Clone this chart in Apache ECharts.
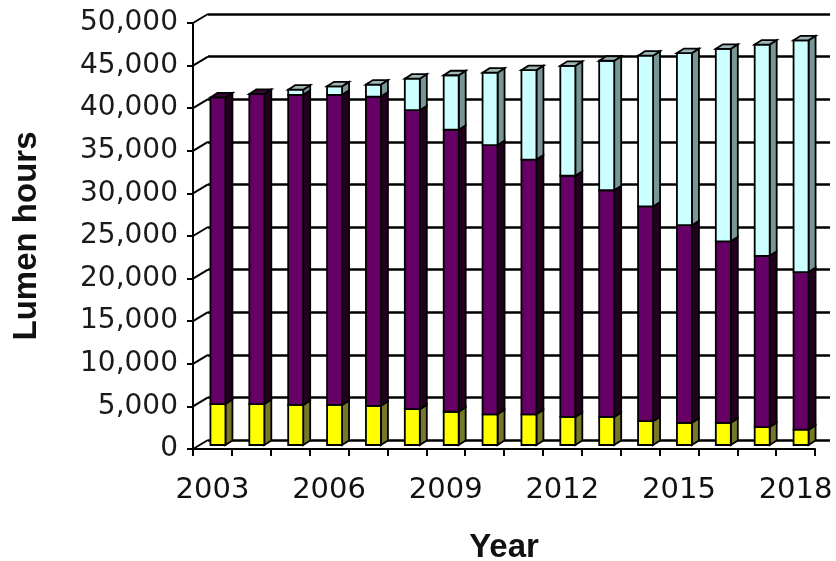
<!DOCTYPE html>
<html>
<head>
<meta charset="utf-8">
<script src="https://cdn.jsdelivr.net/npm/echarts@6/dist/echarts.min.js"></script>
<style>
  html, body { margin: 0; padding: 0; background: #ffffff; }
  #chart { width: 836px; height: 561px; }
</style>
</head>
<body>
<div id="chart"></div>
<script>
// Annual lumen hours by light source, stacked per year
const years = ['2003', '2004', '2005', '2006', '2007', '2008', '2009', '2010',
               '2011', '2012', '2013', '2014', '2015', '2016', '2017', '2018'];
const yellowVals = [4800, 4800, 4700, 4700, 4600, 4200, 3900, 3600,
                    3600, 3300, 3300, 2800, 2600, 2600, 2100, 1800];
const purpleVals = [36000, 36400, 36400, 36400, 36300, 35100, 33100, 31600,
                    29900, 28300, 26600, 25200, 23200, 21300, 20100, 18500];
const cyanVals = [0, 0, 600, 1000, 1400, 3700, 6400, 8500,
                  10500, 12900, 15200, 17700, 20200, 22600, 24800, 27200];
const yTicks = [0, 5000, 10000, 15000, 20000, 25000, 30000, 35000, 40000, 45000, 50000];

// pseudo-3D geometry (pixels)
const FACE_W = 15;          // front face width
const SHIFT_X = 5.5;        // bar front plane offset from the axis plane
const SHIFT_Y = -4;
const DEPTH_X = 7;          // bar depth as drawn on screen
const DEPTH_Y = 4.5;
const WALL_X = 15;          // back wall offset
const WALL_Y = 9;

const segments = [
  { name: 'yellow', vals: yellowVals, front: '#ffff00', side: '#77772a', cap: '#d8d830' },
  { name: 'purple', vals: purpleVals, front: '#660066', side: '#24001f', cap: '#3a0838' },
  { name: 'cyan',   vals: cyanVals,   front: '#ccffff', side: '#789696', cap: '#9fb7b7' }
];

// cumulative bounds for each stacked piece
const bounds = segments.map(() => []);
years.forEach((y, i) => {
  let acc = 0;
  segments.forEach((s, k) => {
    bounds[k].push([i, acc, acc + s.vals[i]]);
    acc += s.vals[i];
  });
});
const capData = years.map((y, i) => {
  let topIdx = 0;
  segments.forEach((s, k) => { if (s.vals[i] > 0) topIdx = k; });
  const total = segments.reduce((a, s) => a + s.vals[i], 0);
  return [i, total, topIdx];
});

const edge = { stroke: '#000000', lineWidth: 1.8 };

function segmentRenderer(seg) {
  return function (params, api) {
    const i = api.value(0), lo = api.value(1), hi = api.value(2);
    if (hi <= lo) return null;
    const pb = api.coord([i, lo]);
    const pt = api.coord([i, hi]);
    const cx = pb[0] + SHIFT_X;
    const yb = pb[1] + SHIFT_Y, yt = pt[1] + SHIFT_Y;
    const xl = cx - FACE_W / 2, xr = cx + FACE_W / 2;
    return {
      type: 'group',
      children: [
        { type: 'polygon',
          shape: { points: [[xr, yb], [xr + DEPTH_X, yb - DEPTH_Y], [xr + DEPTH_X, yt - DEPTH_Y], [xr, yt]] },
          style: Object.assign({ fill: seg.side }, edge) },
        { type: 'rect',
          shape: { x: xl, y: yt, width: FACE_W, height: yb - yt },
          style: Object.assign({ fill: seg.front }, edge) }
      ]
    };
  };
}

function capRenderer(params, api) {
  const i = api.value(0), total = api.value(1), k = api.value(2);
  const pt = api.coord([i, total]);
  const cx = pt[0] + SHIFT_X, yt = pt[1] + SHIFT_Y;
  const xl = cx - FACE_W / 2, xr = cx + FACE_W / 2;
  return {
    type: 'polygon',
    shape: { points: [[xl, yt], [xl + DEPTH_X, yt - DEPTH_Y], [xr + DEPTH_X, yt - DEPTH_Y], [xr, yt]] },
    style: Object.assign({ fill: segments[k].cap }, edge)
  };
}

// slanted connectors from the value axis to the back wall
function connectorRenderer(params, api) {
  const v = api.value(1);
  const p = api.coord([0, v]);
  const x0 = params.coordSys.x;
  return {
    type: 'line',
    shape: { x1: x0, y1: p[1], x2: x0 + WALL_X, y2: p[1] - WALL_Y },
    style: { stroke: '#000000', lineWidth: 2 }
  };
}

const chart = echarts.init(document.getElementById('chart'), null, { renderer: 'canvas' });

const series = segments.map((seg, k) => ({
  type: 'custom',
  name: seg.name,
  xAxisIndex: 0, yAxisIndex: 0,
  renderItem: segmentRenderer(seg),
  encode: { x: 0, y: [1, 2] },
  data: bounds[k],
  clip: false,
  z: 5
}));
series.push({
  type: 'custom', name: 'caps', xAxisIndex: 0, yAxisIndex: 0,
  renderItem: capRenderer, encode: { x: 0, y: 1 }, data: capData, clip: false, z: 6
});
series.push({
  type: 'custom', name: 'wall', xAxisIndex: 0, yAxisIndex: 0,
  renderItem: connectorRenderer, encode: { x: 0, y: 1 },
  data: yTicks.map(v => [0, v]), clip: false, z: 2
});

chart.setOption({
  animation: false,
  backgroundColor: '#ffffff',
  grid: [
    { left: 193, top: 23, width: 622, height: 426, containLabel: false, outerBoundsMode: 'none' },
    { left: 193 + WALL_X, top: 23 - WALL_Y, width: 622, height: 426, containLabel: false, outerBoundsMode: 'none' }
  ],
  xAxis: [
    {
      type: 'category', gridIndex: 0, data: years, boundaryGap: true,
      axisLine: { lineStyle: { color: '#000000', width: 2 } },
      axisTick: { show: true, interval: 0, length: 7, lineStyle: { color: '#000000', width: 2 } },
      axisLabel: {
        interval: 2, margin: 27, color: '#111111',
        fontFamily: 'DejaVu Sans', fontSize: 29
      },
      name: 'Year', nameLocation: 'middle', nameGap: 82,
      nameTextStyle: { fontFamily: 'Liberation Sans', fontWeight: 'bold', fontSize: 33, color: '#111111' }
    },
    { type: 'category', gridIndex: 1, data: years, show: false }
  ],
  yAxis: [
    {
      type: 'value', gridIndex: 0, min: 0, max: 50000, interval: 5000,
      axisLine: { show: true, lineStyle: { color: '#000000', width: 2 } },
      axisTick: { show: true, length: 6, lineStyle: { color: '#000000', width: 2 } },
      splitLine: { show: false },
      axisLabel: {
        margin: 15, color: '#1a1a1a', fontFamily: 'DejaVu Sans', fontSize: 28,
        formatter: v => v.toLocaleString('en-US')
      },
      name: 'Lumen hours', nameLocation: 'middle', nameGap: 150, nameRotate: 90,
      nameTextStyle: { fontFamily: 'Liberation Sans', fontWeight: 'bold', fontSize: 33, color: '#111111' }
    },
    {
      type: 'value', gridIndex: 1, min: 0, max: 50000, interval: 5000,
      axisLine: { show: false }, axisTick: { show: false }, axisLabel: { show: false },
      splitLine: { show: true, lineStyle: { color: '#000000', width: 2.5 } }
    }
  ],
  series: series
});
</script>
</body>
</html>
